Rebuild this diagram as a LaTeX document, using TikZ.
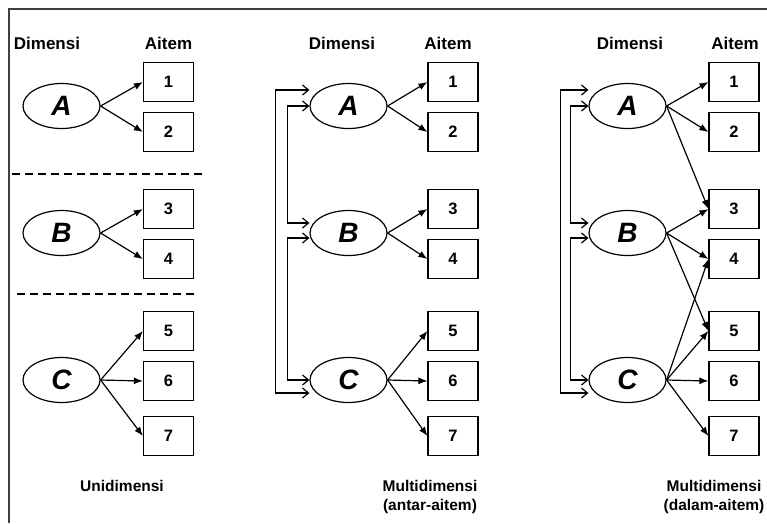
\documentclass[tikz,border=0pt]{standalone}
\usepackage{fontspec}
\setmainfont{Liberation Sans}
\usetikzlibrary{shapes,arrows.meta,positioning,calc}

\tikzset{
  dim/.style={draw, ellipse, line width=1.2pt, minimum width=77pt, minimum height=45pt, inner sep=0pt,
    font=\fontsize{28}{28}\selectfont\bfseries\itshape},
  item/.style={draw, rectangle, line width=1.2pt, minimum width=50pt, minimum height=39pt, inner sep=0pt,
    font=\fontsize{16.5}{16.5}\selectfont\bfseries},
  load/.style={line width=1.2pt, -{Latex[length=9pt,width=7pt]}},
  corr/.style={line width=1.2pt, {Straight Barb[length=6pt,width=10pt]}-{Straight Barb[length=6pt,width=10pt]}},
  head/.style={font=\fontsize{17}{19}\selectfont\bfseries, align=center},
  foot/.style={font=\fontsize{15.5}{19}\selectfont\bfseries, align=center},
  sep/.style={line width=2.5pt, dash pattern=on 8pt off 5pt},
}

\begin{document}
\begin{tikzpicture}[x=1pt,y=-1pt]
  \useasboundingbox (0,0) rectangle (767,523);

  % Frame
  \draw[line width=1.5pt, black!75] (9,523) -- (9,9) -- (767,9);

  % Unidimensi
  \node[head] (uDim) at (47,43) {Dimensi};
  \node[head] (uAit) at (168.5,43) {Aitem};
  \node[dim] (uA) at (61.5,106) {A};
  \node[dim] (uB) at (61.5,233) {B};
  \node[dim] (uC) at (61.5,380) {C};
  \node[item] (u1) at (168.5,82) {1};
  \node[item] (u2) at (168.5,132) {2};
  \node[item] (u3) at (168.5,209) {3};
  \node[item] (u4) at (168.5,259) {4};
  \node[item] (u5) at (168.5,331) {5};
  \node[item] (u6) at (168.5,381) {6};
  \node[item] (u7) at (168.5,436) {7};
  \draw[load] (uA.east) -- (u1.west);
  \draw[load] (uA.east) -- (u2.west);
  \draw[load] (uB.east) -- (u3.west);
  \draw[load] (uB.east) -- (u4.west);
  \draw[load] (uC.east) -- (u5.west);
  \draw[load] (uC.east) -- (u6.west);
  \draw[load] (uC.east) -- (u7.west);
  \draw[sep] (12,174) -- (203,174);
  \draw[sep] (17,294) -- (197,294);
  \node[foot] (uLbl) at (122,486) {Unidimensi};

  % Multidimensi (antar-aitem)
  \node[head] (aDim) at (342,43) {Dimensi};
  \node[head] (aAit) at (448,43) {Aitem};
  \node[dim] (aA) at (348.5,106) {A};
  \node[dim] (aB) at (348.5,233) {B};
  \node[dim] (aC) at (348.5,380) {C};
  \node[item] (a1) at (453,82) {1};
  \node[item] (a2) at (453,132) {2};
  \node[item] (a3) at (453,209) {3};
  \node[item] (a4) at (453,259) {4};
  \node[item] (a5) at (453,331) {5};
  \node[item] (a6) at (453,381) {6};
  \node[item] (a7) at (453,436) {7};
  \draw[load] (aA.east) -- (a1.west);
  \draw[load] (aA.east) -- (a2.west);
  \draw[load] (aB.east) -- (a3.west);
  \draw[load] (aB.east) -- (a4.west);
  \draw[load] (aC.east) -- (a5.west);
  \draw[load] (aC.east) -- (a6.west);
  \draw[load] (aC.east) -- (a7.west);
  \draw[corr] ([yshift=16pt]aA.west) -- ++(-34,0) |- ([yshift=-13pt]aC.west);
  \draw[corr] (aA.west) -- ++(-22,0) |- ([yshift=10pt]aB.west);
  \draw[corr] ([yshift=-5pt]aB.west) -- ++(-22,0) |- (aC.west);
  \node[foot] (aLbl) at (430,497) {Multidimensi\\(antar-aitem)};

  % Multidimensi (dalam-aitem)
  \node[head] (dDim) at (630,43) {Dimensi};
  \node[head] (dAit) at (735,43) {Aitem};
  \node[dim] (dA) at (627.5,106) {A};
  \node[dim] (dB) at (627.5,233) {B};
  \node[dim] (dC) at (627.5,380) {C};
  \node[item] (d1) at (734,82) {1};
  \node[item] (d2) at (734,132) {2};
  \node[item] (d3) at (734,209) {3};
  \node[item] (d4) at (734,259) {4};
  \node[item] (d5) at (734,331) {5};
  \node[item] (d6) at (734,381) {6};
  \node[item] (d7) at (734,436) {7};
  \draw[load] (dA.east) -- (d1.west);
  \draw[load] (dA.east) -- (d2.west);
  \draw[load] (dA.east) -- (d3.west);
  \draw[load] (dB.east) -- (d3.west);
  \draw[load] (dB.east) -- (d4.west);
  \draw[load] (dB.east) -- (d5.west);
  \draw[load] (dC.east) -- (d4.west);
  \draw[load] (dC.east) -- (d5.west);
  \draw[load] (dC.east) -- (d6.west);
  \draw[load] (dC.east) -- (d7.west);
  \draw[corr] ([yshift=16pt]dA.west) -- ++(-28,0) |- ([yshift=-13pt]dC.west);
  \draw[corr] (dA.west) -- ++(-18,0) |- ([yshift=10pt]dB.west);
  \draw[corr] ([yshift=-5pt]dB.west) -- ++(-18,0) |- (dC.west);
  \node[foot] (dLbl) at (714,497) {Multidimensi\\(dalam-aitem)};
\end{tikzpicture}
\end{document}
